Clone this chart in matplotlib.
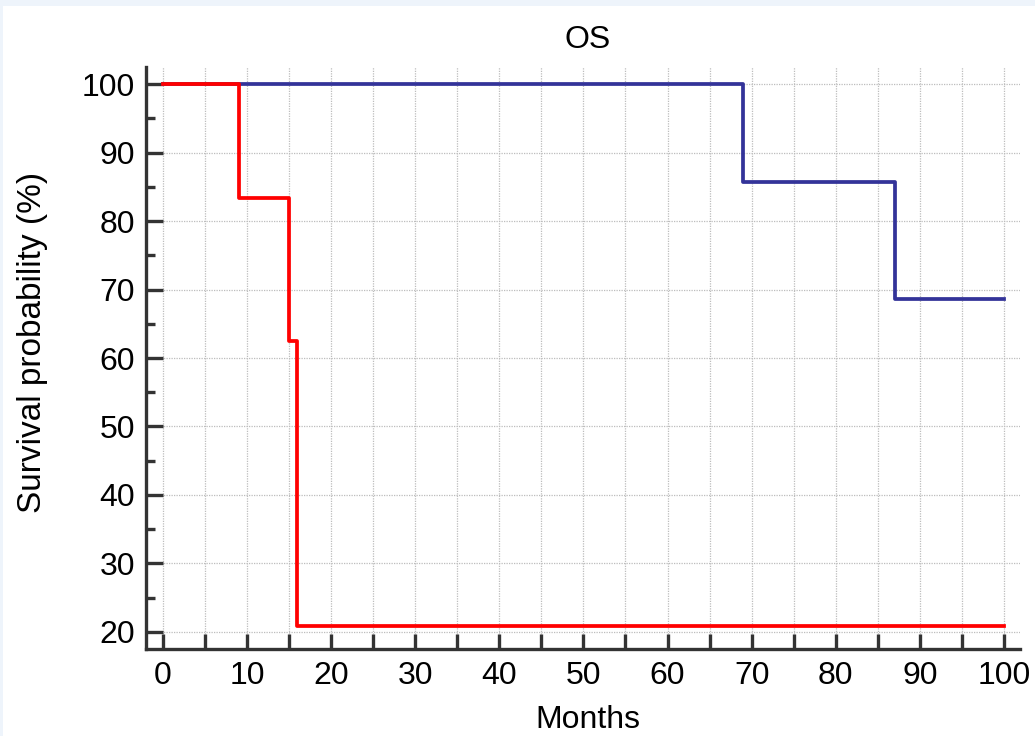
import numpy as np
import matplotlib.pyplot as plt
from matplotlib.patches import Rectangle
from matplotlib.ticker import MultipleLocator

plt.rcParams['font.family'] = ['Liberation Sans', 'DejaVu Sans']

# survival curves (months, %)
red_t = [0, 9, 15, 16, 100]
red_s = [100, 83.3, 62.5, 20.8, 20.8]
blue_t = [0, 69, 87, 100]
blue_s = [100, 85.7, 68.6, 68.6]

W, H = 1035, 736
fig = plt.figure(figsize=(W / 100, H / 100), dpi=100, facecolor='#eef4fb')
fig.patches.append(Rectangle((3 / W, 0), 1, 730 / H, transform=fig.transFigure,
                             facecolor='white', edgecolor='none', zorder=-5))

ax = fig.add_axes([146 / W, (H - 649) / H, 874 / W, 582 / H])
ax.set_facecolor('none')

ax.step(blue_t, blue_s, where='post', color='#333399', lw=2.7, zorder=3)
ax.step(red_t, red_s, where='post', color='#ff0000', lw=2.7, zorder=4)

ax.set_xlim(-2, 101.9)
ax.set_ylim(17.5, 102.5)

ax.xaxis.set_major_locator(MultipleLocator(10))
ax.xaxis.set_minor_locator(MultipleLocator(5))
ax.yaxis.set_major_locator(MultipleLocator(10))
ax.yaxis.set_minor_locator(MultipleLocator(5))
ax.set_xticks(np.arange(0, 101, 10))
ax.set_yticks(np.arange(20, 101, 10))

for s in ['top', 'right']:
    ax.spines[s].set_visible(False)
for s in ['left', 'bottom']:
    ax.spines[s].set_color('#333333')
    ax.spines[s].set_linewidth(2.4)

ax.tick_params(axis='x', which='both', direction='in', length=11, width=2.4,
               color='#333333', labelsize=23, pad=9)
ax.tick_params(axis='y', which='major', direction='in', length=12, width=2.4,
               color='#333333', labelsize=23, pad=8)
ax.tick_params(axis='y', which='minor', direction='in', length=6.5, width=2.4,
               color='#333333')

ax.grid(True, axis='x', which='both', color='#bdbdbd', ls=(0, (1, 1)), lw=0.9)
ax.grid(True, axis='y', which='major', color='#bdbdbd', ls=(0, (1, 1)), lw=0.9)
ax.set_axisbelow(True)

ax.set_xlabel('Months', fontsize=23, va='center')
ax.xaxis.set_label_coords(0.506, -0.122)
ax.set_ylabel('Survival probability (%)', fontsize=24, va='center')
ax.yaxis.set_label_coords(-0.130, 0.527)
ax.text(0.505, 1.046, 'OS', transform=ax.transAxes, ha='center', va='center', fontsize=23)

fig.savefig('out.png', dpi=100, facecolor=fig.get_facecolor())
